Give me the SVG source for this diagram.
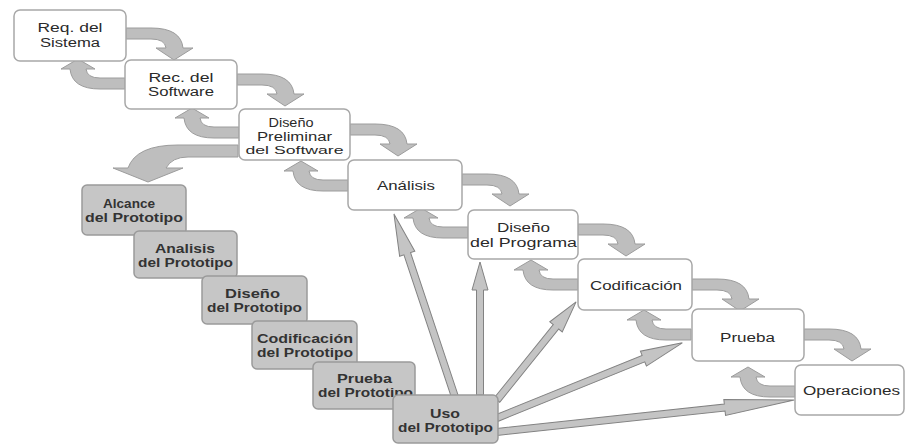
<svg xmlns="http://www.w3.org/2000/svg" xmlns:xlink="http://www.w3.org/1999/xlink" width="906" height="445" viewBox="0 0 906 445">
<style>
.bg{fill:#ffffff}
.wb{fill:#ffffff;stroke:#a8a8a8;stroke-width:1.5}
.gb{fill:#c6c6c6;stroke:#9a9a9a;stroke-width:1.5}
.ca{fill:#bebebe;stroke:#9c9c9c;stroke-width:1}
.ta{fill:#c4c4c4;stroke:#828282;stroke-width:1}
text{font-family:"Liberation Sans",Arial,sans-serif;font-size:12.5px;fill:#2a2a2a;text-anchor:middle}
.g text{font-weight:bold;fill:#333}
</style>
<defs>
<path id="fwd" class="ca" d="M0,0 H25 Q55,0 57,20 H67 L48,32 L30,20 H40 Q39,11 25,11 H0 Z"/>
<path id="bwd" class="ca" d="M0,0 H-25 Q-53,0 -55,-20 H-64 L-47,-30 L-30,-20 H-39 Q-38,-11 -25,-11 H0 Z"/>
</defs>
<rect class="bg" x="0" y="0" width="906" height="445"/>
<g id="connectors">
<use xlink:href="#fwd" x="126" y="28"/>
<use xlink:href="#fwd" x="237" y="74"/>
<use xlink:href="#fwd" x="350" y="124"/>
<use xlink:href="#fwd" x="462" y="174"/>
<use xlink:href="#fwd" x="578" y="224"/>
<use xlink:href="#fwd" x="692" y="279"/>
<use xlink:href="#fwd" x="804" y="329"/>
<use xlink:href="#bwd" x="125" y="89"/>
<use xlink:href="#bwd" x="239" y="138"/>
<use xlink:href="#bwd" x="348" y="191"/>
<use xlink:href="#bwd" x="468" y="238"/>
<use xlink:href="#bwd" x="578" y="290"/>
<use xlink:href="#bwd" x="691" y="340"/>
<use xlink:href="#bwd" x="795" y="397"/>
<path class="ca" d="M238,145 H178 Q136,145 128,168 H113 L148,182 L183,168 H166 Q172,157 188,157 H238 Z"/>
<polygon class="ta" transform="translate(455,397) rotate(-108.44)" points="0,-3.5 151,-3.5 151,-8 193,0 151,8 151,3.5 0,3.5"/>
<polygon class="ta" transform="translate(480,395) rotate(-90)" points="0,-3.5 105,-3.5 105,-8 133,0 105,8 105,3.5 0,3.5"/>
<polygon class="ta" transform="translate(497,400) rotate(-51.12)" points="0,-3.5 94,-3.5 94,-8 126,0 94,8 94,3.5 0,3.5"/>
<polygon class="ta" transform="translate(497,418) rotate(-22.07)" points="0,-3.5 158,-3.5 158,-8 200,0 158,8 158,3.5 0,3.5"/>
<polygon class="ta" transform="translate(497,432) rotate(-6.15)" points="0,-3.5 229,-3.5 229,-8 299,0 229,8 229,3.5 0,3.5"/>
</g>
<g id="n-req-sistema">
<rect class="wb" x="14" y="10" width="112" height="51" rx="6"/>
<text x="70" y="32" textLength="65" lengthAdjust="spacingAndGlyphs">Req. del</text>
<text x="70" y="47" textLength="60" lengthAdjust="spacingAndGlyphs">Sistema</text>
</g>
<g id="n-rec-software">
<rect class="wb" x="125" y="60" width="112" height="49" rx="6"/>
<text x="181" y="82" textLength="65" lengthAdjust="spacingAndGlyphs">Rec. del</text>
<text x="181" y="96" textLength="66" lengthAdjust="spacingAndGlyphs">Software</text>
</g>
<g id="n-diseno-preliminar">
<rect class="wb" x="239" y="109" width="111" height="51" rx="6"/>
<text x="291" y="127" textLength="45" lengthAdjust="spacingAndGlyphs">Diseño</text>
<text x="294.5" y="141" textLength="75" lengthAdjust="spacingAndGlyphs">Preliminar</text>
<text x="294.5" y="154" style="font-size:11px" textLength="98" lengthAdjust="spacingAndGlyphs">del Software</text>
</g>
<g id="n-analisis">
<rect class="wb" x="348" y="160" width="114" height="50" rx="6"/>
<text x="406" y="189.5" textLength="58" lengthAdjust="spacingAndGlyphs">Análisis</text>
</g>
<g id="n-diseno-programa">
<rect class="wb" x="468" y="210" width="110" height="49" rx="6"/>
<text x="523.5" y="232" textLength="53" lengthAdjust="spacingAndGlyphs">Diseño</text>
<text x="523.5" y="246.5" textLength="107" lengthAdjust="spacingAndGlyphs">del Programa</text>
</g>
<g id="n-codificacion">
<rect class="wb" x="578" y="259" width="114" height="51" rx="6"/>
<text x="636" y="289.5" textLength="92" lengthAdjust="spacingAndGlyphs">Codificación</text>
</g>
<g id="n-prueba">
<rect class="wb" x="692" y="309" width="112" height="52" rx="6"/>
<text x="747.5" y="341.5" textLength="55" lengthAdjust="spacingAndGlyphs">Prueba</text>
</g>
<g id="n-operaciones">
<rect class="wb" x="795" y="365" width="109" height="50" rx="6"/>
<text x="851.5" y="394.5" textLength="97" lengthAdjust="spacingAndGlyphs">Operaciones</text>
</g>
<g id="n-alcance-prototipo" class="g">
<rect class="gb" x="82" y="185" width="104" height="50" rx="5"/>
<text x="129" y="207.5" textLength="52" lengthAdjust="spacingAndGlyphs">Alcance</text>
<text x="134" y="221.5" textLength="98" lengthAdjust="spacingAndGlyphs">del Prototipo</text>
</g>
<g id="n-analisis-prototipo" class="g">
<rect class="gb" x="134" y="231" width="103" height="47" rx="5"/>
<text x="185" y="252.5" textLength="60" lengthAdjust="spacingAndGlyphs">Analisis</text>
<text x="185.5" y="266.5" textLength="95" lengthAdjust="spacingAndGlyphs">del Prototipo</text>
</g>
<g id="n-diseno-prototipo" class="g">
<rect class="gb" x="202" y="276" width="105" height="48" rx="5"/>
<text x="252.5" y="297.5" textLength="55" lengthAdjust="spacingAndGlyphs">Diseño</text>
<text x="254.5" y="311.5" textLength="95" lengthAdjust="spacingAndGlyphs">del Prototipo</text>
</g>
<g id="n-codificacion-prototipo" class="g">
<rect class="gb" x="252" y="321" width="105" height="48" rx="5"/>
<text x="305" y="342.5" textLength="96" lengthAdjust="spacingAndGlyphs">Codificación</text>
<text x="305" y="356.5" textLength="96" lengthAdjust="spacingAndGlyphs">del Prototipo</text>
</g>
<g id="n-prueba-prototipo" class="g">
<rect class="gb" x="313" y="362" width="102" height="47" rx="5"/>
<text x="364.5" y="382.5" textLength="55" lengthAdjust="spacingAndGlyphs">Prueba</text>
<text x="365.5" y="396.5" textLength="95" lengthAdjust="spacingAndGlyphs">del Prototipo</text>
</g>
<g id="n-uso-prototipo" class="g">
<rect class="gb" x="393" y="395" width="105" height="48" rx="5"/>
<text x="445" y="417.5" textLength="30" lengthAdjust="spacingAndGlyphs">Uso</text>
<text x="445.5" y="431.5" textLength="95" lengthAdjust="spacingAndGlyphs">del Prototipo</text>
</g>
</svg>
